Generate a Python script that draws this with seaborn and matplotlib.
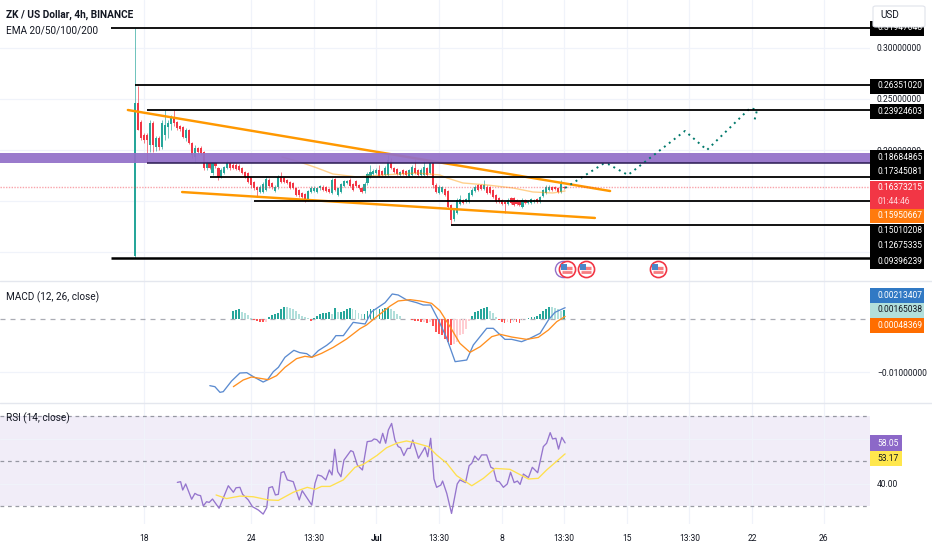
import numpy as np
import pandas as pd
import matplotlib
matplotlib.use("Agg")
import matplotlib.pyplot as plt
from matplotlib.patches import Rectangle, FancyBboxPatch
import seaborn as sns

sns.set_theme(style="white")
plt.rcParams['font.family'] = ['Roboto', 'DejaVu Sans']

# Candles in units of 0.00098 USD above 0.00598 USD
first_candle = -3
opens = [92,245,226,213,213,203,225,201,210,201,
         213,221,224,230,226,222,221,210,218,205,
         191,200,200,196,180,185,175,185,180,171,
         175,180,185,183,183,182,180,176,175,171,
         166,161,156,156,158,168,165,157,161,171,
         170,168,166,165,160,158,155,154,148,156,
         157,156,160,161,161,159,155,169,153,156,
         162,165,168,164,167,163,160,157,165,172,
         174,175,178,177,173,173,187,180,179,173,
         178,177,172,173,180,178,173,173,180,175,
         185,163,155,156,159,157,143,129,135,144,
         148,146,146,153,157,163,163,159,161,161,
         158,153,150,148,146,144,150,150,148,147,
         141,148,145,145,146,149,146,152,155,158,
         161,161,160,156,161]
closes = [245,218,210,208,208,225,203,210,201,225,
          223,225,231,225,220,219,211,218,205,193,
          200,196,195,180,185,180,185,182,171,178,
          181,185,180,180,179,178,175,171,166,163,
          160,158,161,164,169,162,161,161,171,166,
          166,165,160,160,153,153,151,148,157,160,
          160,160,162,158,157,156,168,158,160,164,
          167,167,162,158,162,160,156,164,174,176,
          177,178,172,173,180,188,180,176,174,176,
          174,173,178,181,175,173,178,181,173,185,
          163,156,161,161,153,141,128,138,148,149,
          145,149,155,158,161,158,159,163,155,155,
          151,146,146,144,144,148,145,143,144,143,
          148,145,147,149,148,146,151,158,161,161,
          158,159,156,164,160]
highs = [320,262,228,215,215,228,227,212,212,228,
         238,228,233,238,227,223,222,220,219,206,
         203,201,202,197,187,187,186,187,181,180,
         182,188,187,185,185,184,181,177,176,172,
         167,162,163,166,172,170,166,163,173,176,
         171,169,167,166,161,159,156,155,158,162,
         162,161,163,163,162,160,170,170,161,165,
         168,168,170,165,168,164,161,166,176,183,
         179,180,183,178,182,193,190,181,180,177,
         179,178,179,183,189,179,180,189,181,188,
         186,165,163,162,160,158,144,140,150,153,
         149,150,156,160,163,164,164,168,163,162,
         159,154,151,149,147,150,151,151,149,148,
         150,149,148,150,149,150,152,159,163,163,
         162,162,161,168,162]
lows = [90,218,208,205,185,196,196,197,198,199,
        208,210,218,222,218,217,210,207,204,190,
        186,194,193,178,178,179,173,180,168,170,
        174,179,178,179,178,177,174,170,165,160,
        158,151,155,155,157,160,159,156,159,165,
        165,164,159,159,152,151,150,146,147,155,
        156,155,158,157,156,155,154,157,152,155,
        161,164,161,157,161,159,155,155,163,170,
        173,174,171,172,172,172,179,175,173,172,
        173,172,171,172,174,172,172,172,172,174,
        160,155,154,155,152,140,123,127,134,143,
        144,145,145,152,156,157,158,158,154,154,
        150,145,145,143,135,143,144,142,143,142,
        140,144,144,144,145,145,145,151,154,157,
        157,158,155,155,159]

# EMA 200, same units
ema_x = [46.3,52.3,58.1,63.4,71.5,80.2,91.6,99.3,101.7,107,115.1,123.8,130.5,137.2,141.3]
ema_y = [191,186,180,174,171,173,175,173,170,165,163,160,156,155,157]

# Hand-drawn forecast path, same units
path_x = [141.3,154,155.7,162.4,181.5,188.9,203.4,205.7,204.7]
path_y = [160,184,184,173,217,198,240,238,226]

# Horizontal levels: price, first candle
level_prices = [0.3198,0.26351020,0.23924603,0.18684865,0.17345081,0.15010208,0.12675335,0.09396239]
level_starts = [-11,-3,1,1,22,37,103,-11]
level_widths = [1.3,1.3,1.3,1.1,1.3,1.3,1.3,1.8]
band_low, band_high = 0.18684865, 0.1973
trend_up_x, trend_up_y = [-5.4,156.4], [0.2392,0.1598]
trend_lo_x, trend_lo_y = [12.8,151.3], [0.1588,0.1334]
last_price = 0.16373215
event_x = [141.9,148.3,172.5]

# MACD, values in thousandths
macd_x = [22.1,23.8,25.5,26.6,29.4,32.2,34.5,36.7,40.0,41.4,43.4,45.1,47.3,50.3,52.3,54.6,56.3,58.5,61.3,63,64.4,66.9,70.2,74.2,76.4,80.9,83.3,85.3,88.2,91.5,93.7,96.2,98.8,101.6,104.4,108.3,110.5,115,117.2,121.1,123.4,126.7,129.5,132.9,135.7,137.9,141.3]
macd_y = [-12.58,-12.77,-13.84,-13.71,-11.70,-10.19,-10.13,-10.88,-11.89,-11.51,-9.94,-9.12,-7.23,-5.91,-6.35,-6.54,-7.23,-5.97,-4.97,-4.21,-3.14,-3.14,-0.63,-0.94,1.38,3.08,4.72,4.53,3.58,3.08,2.64,2.64,-0.19,-3.65,-8.05,-7.74,-4.91,-1.76,-1.76,-3.84,-3.84,-4.28,-3.65,-2.70,-0.19,1.26,2.13]
signal_x = [30.0,33.3,36.1,38.9,41.7,44.5,47.3,51.2,54,56.3,59.6,63.5,68,72.5,74.7,78.1,82.6,85.3,89.3,92.6,96.5,99.3,102.7,106,109.4,112.8,116.7,119.5,123.4,128.4,132.3,135.7,138.5,141.3]
signal_y = [-12.77,-11.51,-10.94,-11.19,-11.45,-10.69,-9.12,-7.48,-7.04,-7.23,-6.48,-5.35,-3.77,-1.82,-1.13,0.44,2.45,3.40,3.65,3.40,2.96,1.57,-1.45,-4.59,-6.29,-5.22,-3.33,-2.89,-3.40,-3.84,-3.46,-2.08,-0.50,0.48]
hist_first = 30
hist = [1.5,1.7,1.8,1.4,1.1,.8,.1,-.2,-.4,-.5,-.6,-.5,.4,.8,1.0,1.1,1.9,2.3,2.2,2.1,1.9,1.6,.9,.6,.3,.1,-.3,.2,.6,.9,1.1,1.2,1.3,.9,2.1,1.3,1.4,1.6,1.9,2.0,1.9,1.7,1.1,.9,.9,1.5,1.8,1.9,1.8,1.9,1.9,2.1,2.1,1.9,1.6,.9,.5,.05,-.05,-.05,-.1,-.3,-.4,-.6,-.5,-.8,-.6,-1.3,-2.4,-2.8,-3.0,-3.8,-4.4,-4.9,-4.8,-4.4,-3.1,-2.8,-1.8,-.4,.5,1.3,1.6,1.9,2.1,2.3,1.6,1.1,.3,-.1,-.5,-.8,-.6,-.7,-.5,-.6,-.7,-.2,.05,.1,.3,.4,.6,.9,1.6,1.9,2.3,2.2,2.0,1.9,1.6,1.65]

# RSI and its moving average
rsi_x = [11.2,12.3,13.0,14.0,16.0,17.1,18.0,19.0,19.9,21.0,21.9,23.0,25.2,28.3,30.0,30.9,32.2,33.1,35.0,36.4,38.4,40.0,41.2,41.9,43.1,44.1,45.1,46.0,47.0,48.1,50.1,52.1,53.1,56.3,57.4,58.3,59.6,61.0,62.2,63.1,64.0,65.0,66.1,67.1,69.4,70.2,71.6,73.3,74.9,76.4,77.2,78.1,79.2,80.1,81.1,82.0,83.1,84.2,85.3,86.1,87.2,88.4,89.3,90.2,92.1,94.3,95.2,96.2,97.3,98.2,99.6,100.2,101.6,103.2,105.1,106.0,107.9,109.1,110.0,111.0,112.2,113.3,115.0,116.4,117.2,118.3,119.2,120.6,121.9,123.0,124.2,125.3,126.2,127.3,129.0,130.3,132.1,134.0,135.1,136.3,137.1,138.2,139.1,140.2,141.3]
rsi_y = [40.5,40.8,37.1,39.8,33.0,35.6,34.9,34.6,30.0,31.9,31.6,33.1,29.0,39.0,36.1,38.1,38.3,35.2,32.7,29.7,28.2,26.4,29.3,38.1,38.6,34.9,35.2,44.8,45.3,41.6,40.8,32.7,36.8,30.4,40.1,43.8,43.3,41.6,46.0,43.8,55.2,45.3,43.0,50.4,54.6,54.1,48.2,46.0,58.6,58.9,59.8,59.5,57.9,62.3,57.9,63.8,66.7,59.3,56.4,55.9,52.4,55.6,55.6,59.3,51.2,56.1,51.9,60.1,42.0,38.3,39.3,41.1,35.6,26.7,39.8,41.6,40.4,47.9,49.0,52.2,50.4,52.7,52.7,47.2,46.7,41.1,40.8,38.3,39.8,45.0,40.4,41.1,39.6,44.2,42.6,47.2,44.8,56.4,57.9,62.6,59.8,60.1,55.3,60.5,58.05]
rsima_x = [24.2,27.7,32.2,36.7,41.7,45.1,50.1,54.8,57.4,59.6,62.4,66.9,70.8,73.6,78.1,81.4,84.8,88.1,90.9,95.4,98.2,101.6,104.9,110,113.9,117.8,122.8,129,132.3,135.1,141.3]
rsima_y = [34.9,33.3,34.4,34.1,32.7,32.5,36.1,38.3,37.4,38.7,38.7,41.6,47.2,48.5,52.4,55.9,57.9,58.9,58.1,56.4,52.7,49.0,43.5,39.0,42.3,46.7,46.3,42.0,42.3,46.0,53.17]

# Axis labels
time_ticks = [0,36,57,78,99,120,141,162,183,204,228]
time_labels = ['18','24','13:30','Jul','13:30','8','13:30','15','13:30','22','26']
price_ticks = [0.30,0.25,0.20,0.15,0.10]
price_labels = ['0.30000000','0.25000000','0.20000000','','']
tags_main = [(28,'0.31947048','#000000','white'),(86,'0.26351020','#000000','white'),
             (111,'0.23924603','#000000','white'),(157,'0.18684865','#000000','white'),
             (172,'0.17345081','#000000','white'),(231,'0.15010208','#000000','white'),
             (246,'0.12675335','#000000','white'),(261,'0.09396239','#000000','white'),
             (295,'0.00213407','#3179C4','white'),(310,'0.00165038','#B2DFDB','#131722'),
             (325,'0.00048369','#FF6D00','white')]

UP, DOWN = '#26A69A', '#F23645'
TEXT = '#131722'
GRID = '#F0F3FA'
W, H = 932, 550
RIGHT = 870
SCALE_FS = 6.15

def usd(units):
    return 0.00598 + 0.00098 * np.asarray(units, dtype=float)

def panel(top, bottom):
    a = fig.add_axes([0, 1 - bottom / H, RIGHT / W, (bottom - top) / H])
    a.set_facecolor('none')
    a.set_xlim(-48.3, 243.6)
    for s in a.spines.values():
        s.set_visible(False)
    a.yaxis.tick_right()
    a.tick_params(axis='both', length=0, labelsize=SCALE_FS, labelcolor=TEXT, pad=5)
    a.set_xticks(time_ticks)
    a.grid(axis='x', color=GRID, lw=0.9)
    a.grid(axis='y', color=GRID, lw=0.9)
    a.set_axisbelow(True)
    return a

fig = plt.figure(figsize=(W / 100, H / 100), dpi=100, facecolor='white')
ax = panel(0, 281)
ax2 = panel(281, 403)
ax3 = panel(403, 524)

# ---- price panel
ax.set_ylim(0.347 - 0.00098 * 281, 0.347)
ax.set_yticks(price_ticks, price_labels)
ax.set_xticklabels([])

candles = pd.DataFrame({'o': usd(opens), 'c': usd(closes), 'h': usd(highs), 'l': usd(lows)})
candles['x'] = np.arange(len(candles)) + first_candle
candles['col'] = np.where(candles.c >= candles.o, UP, DOWN)
ax.vlines(candles.x, candles.l, candles.h, colors=candles.col, lw=0.55, alpha=0.85, zorder=3)
ax.bar(candles.x, (candles.c - candles.o).abs().clip(lower=0.0008), bottom=candles[['o', 'c']].min(axis=1),
       width=0.7, color=candles.col, lw=0, zorder=3)

sns.lineplot(x=ema_x, y=usd(ema_y), ax=ax, color='#FF9800', alpha=0.45, lw=1.0, zorder=3)
sns.lineplot(x=trend_up_x, y=trend_up_y, ax=ax, color='#FF9800', lw=1.75, zorder=3)
sns.lineplot(x=trend_lo_x, y=trend_lo_y, ax=ax, color='#FF9800', lw=1.75, zorder=3)
ax.axhspan(band_low, band_high, color='#9370C8', alpha=0.93, lw=0, zorder=4)
ax.axhline(last_price, color=DOWN, alpha=0.45, lw=1.0, ls=(0, (1, 1)), zorder=3)
sns.lineplot(x=path_x, y=usd(path_y), ax=ax, color='#00796B', lw=1.4, ls=(0, (1, 2.2)), sort=False,
             estimator=None, zorder=5)
for price, start, lw in zip(level_prices, level_starts, level_widths):
    c = '#2A1A52' if price == level_prices[3] else '#000000'
    ax.hlines(price, start, ax.get_xlim()[1], color=c, lw=lw, zorder=5)

ev_y = usd(79)
ax.scatter(event_x[0] - 1.3, ev_y, s=135, facecolor='white', edgecolor='#9370C8', lw=1.0, zorder=6, clip_on=False)
ax.scatter(event_x, [ev_y] * 3, s=135, facecolor='white', edgecolor='#F23645', lw=1.2, zorder=6, clip_on=False)
ax.scatter(event_x, [ev_y + 0.0013] * 3, s=48, marker='_', color='#F77C80', lw=2.4, zorder=7, clip_on=False)
ax.scatter(event_x, [ev_y - 0.0032] * 3, s=62, marker='_', color='#F77C80', lw=2.0, zorder=7, clip_on=False)
ax.scatter(np.array(event_x) - 0.9, [ev_y + 0.0022] * 3, s=20, marker='s', color='#4A86C8', lw=0, zorder=8, clip_on=False)

# ---- MACD panel
ax2.set_ylim(-(403 - 319) / 5300, (319 - 281) / 5300)
ax2.set_yticks([-0.01], ['\u22120.01000000'])
ax2.set_xticklabels([])
hv = np.array(hist) / 1000
prev = np.r_[hv[0], hv[:-1]]
hcol = np.where(hv >= 0, np.where(hv >= prev, UP, '#B2DFDB'), np.where(hv <= prev, '#FF5252', '#FFCDD2'))
ax2.bar(np.arange(len(hv)) + hist_first, hv, width=0.6, color=hcol, lw=0, zorder=2)
ax2.axhline(0, color='#9598A1', lw=0.9, ls=(0, (4, 4)), alpha=0.8, zorder=1)
sns.lineplot(x=macd_x, y=np.array(macd_y) / 1000, ax=ax2, color='#5B8BD0', lw=0.95, zorder=3)
sns.lineplot(x=signal_x, y=np.array(signal_y) / 1000, ax=ax2, color='#FF8F1F', lw=0.95, zorder=3)

# ---- RSI panel
ax3.set_ylim(30 - 18 / 2.25, 70 + 13 / 2.25)
ax3.axhspan(30, 70, color='#7E57C2', alpha=0.1, lw=0, zorder=0)
ax3.set_yticks([40, 60], ['40.00', '60.00'])
for lv in (30, 50, 70):
    ax3.axhline(lv, color='#787B86', lw=0.9, ls=(0, (3, 3)), alpha=0.75, zorder=1)
sns.lineplot(x=rsi_x, y=rsi_y, ax=ax3, color='#9575CD', lw=0.95, zorder=3)
sns.lineplot(x=rsima_x, y=rsima_y, ax=ax3, color='#FFE04D', lw=0.95, zorder=3)
ax3.set_xticks(time_ticks, time_labels)
ax3.tick_params(axis='x', pad=7)
ax3.get_xticklabels()[3].set_fontweight('bold')

# ---- overlay texts and tags
def label(xp, yp, s, **kw):
    kw.setdefault('fontsize', SCALE_FS)
    kw.setdefault('color', TEXT)
    fig.text(xp / W, 1 - yp / H, s, va='center', zorder=30, **kw)

def box(x0, y0, w, h, fc):
    fig.add_artist(Rectangle((x0 / W, 1 - (y0 + h) / H), w / W, h / H, transform=fig.transFigure,
                             facecolor=fc, edgecolor='none', zorder=20))

label(6, 15, 'ZK / US Dollar, 4h, BINANCE', fontweight='bold', fontsize=7.3)
label(6, 30, 'EMA 20/50/100/200', fontsize=7.2)
label(6, 297, 'MACD (12, 26, close)', fontsize=7.2)
label(6, 418, 'RSI (14, close)', fontsize=7.2)

for yp, s, fc, tc in tags_main:
    box(870, yp - 7.5, 54, 15, fc)
    label(877, yp, s, color=tc)
box(870, 181, 54, 27.5, DOWN)
label(877, 188, '0.16373215', color='white')
label(877, 201, '01:44:46', color='#FFD6DA')
box(870, 209, 54, 14, '#FF7A0D')
label(877, 216, '0.15950667', color='white')
box(870, 435, 32, 16, '#8C68C8')
label(877, 443, '58.05', color='white')
box(870, 451, 32, 15, '#FFE74D')
label(877, 458.5, '53.17', color=TEXT)

fig.add_artist(FancyBboxPatch((873 / W, 1 - 27 / H), 52 / W, 21 / H, transform=fig.transFigure,
                              boxstyle='round,pad=0,rounding_size=0.003', facecolor='white',
                              edgecolor='#E0E3EB', lw=0.8, zorder=25))
label(880, 15.5, 'USD', fontsize=7.2)

for yp in (281, 403):
    fig.add_artist(plt.Line2D([0, 1], [1 - yp / H] * 2, color='#E4E7EE', lw=1.0, transform=fig.transFigure, zorder=10))

fig.savefig('out.png', dpi=100)
